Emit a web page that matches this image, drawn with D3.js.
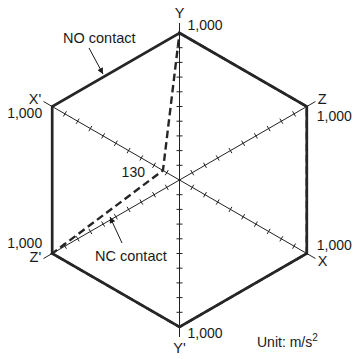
<!DOCTYPE html>
<html>
<head>
<meta charset="utf-8">
<script src="https://cdn.jsdelivr.net/npm/d3@7"></script>
<style>
  html, body { margin: 0; padding: 0; background: #fff; }
  svg { display: block; }
  text { font-family: "Liberation Sans", Arial, Helvetica, sans-serif; fill: #1a1a1a; }
</style>
</head>
<body>
<div id="chart"></div>
<script>
// axis order clockwise from the top
const AXES = ["Y", "Z", "X", "Y'", "Z'", "X'"];
const MAX_VALUE = 1000;
const TICKS = [100, 200, 300, 400, 500, 600, 700, 800, 900];

// values per axis, same order as AXES
const NO_CONTACT = [1000, 1000, 1000, 1000, 1000, 1000];
const NC_CONTACT = [1000, 1000, 1000, 1000, 1000, 130];

const W = 353, H = 359;
const CX = 179.5, CY = 180;
const R = 147;
const EXT = 10;

const svg = d3.select("#chart").append("svg")
  .attr("width", W).attr("height", H);

const g = svg.append("g").attr("transform", `translate(${CX},${CY})`);

const r = d3.scaleLinear().domain([0, MAX_VALUE]).range([0, R]);
const angle = d3.scalePoint().domain(AXES).range([0, 2 * Math.PI * 5 / 6]);

function pt(axis, v) {
  const a = angle(axis);
  return [r(v) * Math.sin(a), -r(v) * Math.cos(a)];
}

// axis lines (three straight lines through the centre)
AXES.slice(0, 3).forEach((ax, i) => {
  const a = angle(ax);
  const len = R + EXT;
  g.append("line")
    .attr("x1", len * Math.sin(a)).attr("y1", -len * Math.cos(a))
    .attr("x2", -len * Math.sin(a)).attr("y2", len * Math.cos(a))
    .attr("stroke", "#222").attr("stroke-width", 1);
});

// ticks
AXES.forEach(ax => {
  const a = angle(ax);
  const px = Math.cos(a), py = Math.sin(a);
  TICKS.forEach(t => {
    const [x, y] = pt(ax, t);
    g.append("line")
      .attr("x1", x - 3 * px).attr("y1", y - 3 * py)
      .attr("x2", x + 3 * px).attr("y2", y + 3 * py)
      .attr("stroke", "#222").attr("stroke-width", 1);
  });
});

const radial = d3.lineRadial()
  .angle((d, i) => angle(AXES[i]))
  .radius(d => r(d))
  .curve(d3.curveLinearClosed);

g.append("path")
  .attr("d", radial(NO_CONTACT))
  .attr("fill", "none")
  .attr("stroke", "#262626")
  .attr("stroke-width", 2.7)
  .attr("stroke-linejoin", "miter");

g.append("path")
  .attr("d", radial(NC_CONTACT))
  .attr("fill", "none")
  .attr("stroke", "#262626")
  .attr("stroke-width", 2.4)
  .attr("stroke-dasharray", "7.5,4");

// axis labels
const LABELS = [
  { axis: "Y",  name: [0, -15, "middle"],  val: [8, -3, "start"] },
  { axis: "Z",  name: [11, -2.5, "start"], val: [10, 14.5, "start"] },
  { axis: "X",  name: [11, 12, "start"],   val: [10, -3.5, "start"] },
  { axis: "Y'", name: [0, 26, "middle"],   val: [8, 11, "start"] },
  { axis: "Z'", name: [-11, 8, "end"],     val: [-10, -6, "end"] },
  { axis: "X'", name: [-11, -2.5, "end"],  val: [-10, 11, "end"] },
];

LABELS.forEach(l => {
  const [x, y] = pt(l.axis, MAX_VALUE);
  g.append("text")
    .attr("x", x + l.name[0]).attr("y", y + l.name[1])
    .attr("text-anchor", l.name[2])
    .attr("font-size", "14.5px")
    .text(l.axis);
  g.append("text")
    .attr("x", x + l.val[0]).attr("y", y + l.val[1])
    .attr("text-anchor", l.val[2])
    .attr("font-size", "14px")
    .text(d3.format(",")(MAX_VALUE));
});

// 130 label on X' axis
const p130 = pt("X'", NC_CONTACT[5]);
g.append("text")
  .attr("x", p130[0] - 18).attr("y", p130[1] + 7)
  .attr("text-anchor", "end")
  .attr("font-size", "14px")
  .text(d3.format(",")(NC_CONTACT[5]));

// annotations with arrows
const defs = svg.append("defs");
defs.append("marker")
  .attr("id", "arrow")
  .attr("viewBox", "0 0 10 10")
  .attr("refX", 10).attr("refY", 5)
  .attr("markerWidth", 8).attr("markerHeight", 6)
  .attr("markerUnits", "userSpaceOnUse")
  .attr("orient", "auto")
  .append("path")
  .attr("d", "M0,0L10,5L0,10Z")
  .attr("fill", "#1a1a1a");

svg.append("text")
  .attr("x", 63).attr("y", 43)
  .attr("font-size", "14.5px")
  .text("NO contact");

svg.append("line")
  .attr("x1", 89).attr("y1", 48)
  .attr("x2", 103).attr("y2", 74)
  .attr("stroke", "#1a1a1a").attr("stroke-width", 1)
  .attr("marker-end", "url(#arrow)");

svg.append("text")
  .attr("x", 95).attr("y", 261)
  .attr("font-size", "14.5px")
  .text("NC contact");

svg.append("line")
  .attr("x1", 122).attr("y1", 243)
  .attr("x2", 110).attr("y2", 217)
  .attr("stroke", "#1a1a1a").attr("stroke-width", 1)
  .attr("marker-end", "url(#arrow)");

// unit
const unit = svg.append("text")
  .attr("x", 257).attr("y", 347)
  .attr("font-size", "14px");
unit.append("tspan").text("Unit: m/s");
unit.append("tspan")
  .attr("font-size", "10px")
  .attr("dy", -6)
  .text("2");
</script>
</body>
</html>
